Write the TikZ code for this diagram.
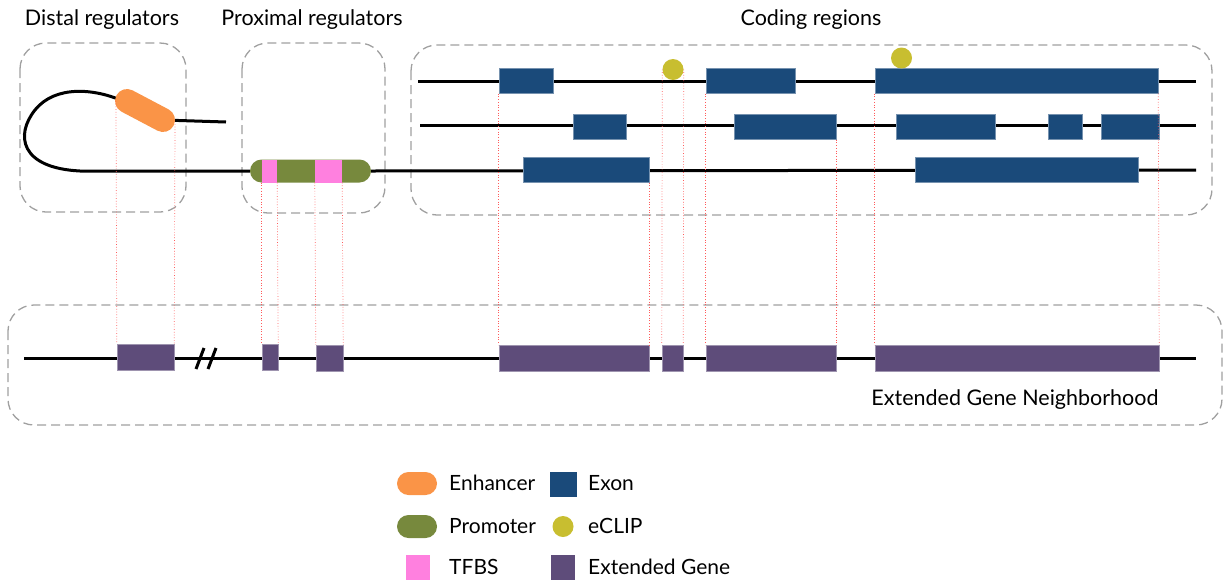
\documentclass[tikz,border=0pt]{standalone}
\usepackage{fontspec}
\setmainfont{Lato}
\definecolor{enh}{RGB}{250,148,71}
\definecolor{prom}{RGB}{119,137,61}
\definecolor{tfbs}{RGB}{255,128,223}
\definecolor{exonc}{RGB}{26,74,122}
\definecolor{eclip}{RGB}{200,190,48}
\definecolor{egene}{RGB}{94,76,122}
\definecolor{boxgray}{RGB}{160,160,160}
\definecolor{guide}{RGB}{255,90,90}
\begin{document}
\begin{tikzpicture}[x=1pt,y=-1pt,
  region/.style={draw=boxgray,line width=1.3pt,dash pattern=on 9pt off 5pt,rounded corners=26pt},
  dna/.style={line width=3pt,black},
  exon/.style={rectangle,fill=exonc,draw=exonc!60!white,line width=0.4pt,inner sep=0pt,minimum height=25pt},
  xgene/.style={rectangle,fill=egene,draw=egene!60!white,line width=0.4pt,inner sep=0pt,minimum height=26pt},
  tfbsbox/.style={rectangle,fill=tfbs,inner sep=0pt,minimum height=23pt},
  clip/.style={circle,fill=eclip,inner sep=0pt,minimum size=21pt},
  capsule/.style={rectangle,rounded corners=11.5pt,inner sep=0pt,minimum height=23pt},
  guideline/.style={draw=guide,line width=0.7pt,dotted},
  title/.style={font=\fontsize{21.5}{24}\selectfont,inner sep=0pt},
  legtext/.style={font=\fontsize{21}{24}\selectfont,inner sep=0pt,anchor=west}
]
\useasboundingbox (0,0) rectangle (1223,579);
% region boxes
\draw[region] (20,43) rectangle (186,212);
\draw[region] (242,43) rectangle (385,213);
\draw[region] (411,45) rectangle (1212,215);
\draw[region] (8,305) rectangle (1222,425);
% titles
\node[title] (tdist) at (102,20) {Distal regulators};
\node[title] (tprox) at (312,20) {Proximal regulators};
\node[title] (tcod) at (811,20) {Coding regions};
\node[title] (tneigh) at (1015,400) {Extended Gene Neighborhood};

\coordinate (bl) at (24,358);
\coordinate (br) at (1196,358);

% coding rows lines
\coordinate (r1a) at (418,81); \coordinate (r1b) at (1196,81);
\coordinate (r2a) at (420,125); \coordinate (r2b) at (1196,125);
\coordinate (r3b) at (1196,170);
\draw[dna] (r1a) -- (r1b);
\draw[dna] (r2a) -- (r2b);

% loop
\coordinate (loopend) at (125,102);
\coordinate (tailend) at (226,122);
\draw[dna] (250,171) -- (80,171) .. controls (20,168) and (15,135) .. (35,110)
  .. controls (55,85) and (95,88) .. (loopend);
\draw[dna] (163,120) -- (tailend);

% promoter
\node[capsule,fill=prom,minimum width=121pt] (prom) at (310.5,171) {};
\draw[dna] (prom.east) -- (r3b);
\node[tfbsbox,minimum width=15pt] (t1) at (269.5,171) {};
\node[tfbsbox,minimum width=27pt] (t2) at (328.5,171) {};

% enhancer
\draw[enh,line width=24pt,line cap=round] (127,101) -- (163,120);
\coordinate (enhL) at (116,101);
\coordinate (enhR) at (175,124);

% exons
\node[exon,minimum width=54pt] (e11) at (526,81) {};
\node[exon,minimum width=89pt] (e12) at (750.5,81) {};
\node[exon,minimum width=283pt] (e13) at (1016.5,81) {};
\node[exon,minimum width=53pt] (e21) at (599.5,127) {};
\node[exon,minimum width=102pt] (e22) at (785,127) {};
\node[exon,minimum width=99pt] (e23) at (945.5,127) {};
\node[exon,minimum width=34pt] (e24) at (1065,127) {};
\node[exon,minimum width=58pt] (e25) at (1130,127) {};
\node[exon,minimum width=126pt] (e31) at (586,170) {};
\node[exon,minimum width=223pt] (e32) at (1026.5,170) {};
\node[clip] (c1) at (673,69.5) {};
\node[clip] (c2) at (901.5,58) {};

% bottom line and break
\draw[dna] (bl) -- (br);
\draw[line width=3pt] (196,369) -- (204,348);
\draw[line width=3pt] (208,369) -- (216,348);

\node[xgene,minimum width=57pt] (g1) at (145.5,357) {};
\node[xgene,minimum width=16pt] (g2) at (270,357.5) {};
\node[xgene,minimum width=27pt] (g3) at (329.5,358) {};
\node[xgene,minimum width=150pt] (g4) at (574,358) {};
\node[xgene,minimum width=21pt] (g5) at (672.5,358) {};
\node[xgene,minimum width=130pt] (g6) at (771,358) {};
\node[xgene,minimum width=284pt] (g7) at (1017,358) {};

% guides
\draw[guideline] (enhL) -- (g1.north west);
\draw[guideline] (enhR) -- (g1.north east);
\draw[guideline] (t1.south west) -- (g2.north west);
\draw[guideline] (t1.south east) -- (g2.north east);
\draw[guideline] (t2.south west) -- (g3.north west);
\draw[guideline] (t2.south east) -- (g3.north east);
\draw[guideline] (e11.south west) -- (g4.north west);
\draw[guideline] (e31.south east) -- (g4.north east);
\draw[guideline] (c1.west) -- (g5.north west);
\draw[guideline] (c1.east) -- (g5.north east);
\draw[guideline] (e12.south west) -- (g6.north west);
\draw[guideline] (e22.south east) -- (g6.north east);
\draw[guideline] (e13.south west) -- (g7.north west);
\draw[guideline] (e13.south east) -- (g7.north east);

% legend
\node[capsule,fill=enh,minimum width=40pt] (lenh) at (417,483.5) {};
\node[legtext] (lenht) at (449,483) {Enhancer};
\node[rectangle,fill=exonc,inner sep=0pt,minimum width=27pt,minimum height=25pt] (lexon) at (563.5,484.5) {};
\node[legtext] (lexont) at (588,483) {Exon};
\node[capsule,fill=prom,minimum width=40pt] (lprom) at (417,526.5) {};
\node[legtext] (lpromt) at (449,526) {Promoter};
\node[clip] (lclip) at (563,526.5) {};
\node[legtext] (lclipt) at (588,526) {eCLIP};
\node[rectangle,fill=tfbs,inner sep=0pt,minimum width=24pt,minimum height=25pt] (ltfbs) at (418,567.5) {};
\node[legtext] (ltfbst) at (449,567) {TFBS};
\node[rectangle,fill=egene,inner sep=0pt,minimum width=24pt,minimum height=25pt] (lgene) at (563,567.5) {};
\node[legtext] (lgenet) at (588,567) {Extended Gene};
\end{tikzpicture}
\end{document}
